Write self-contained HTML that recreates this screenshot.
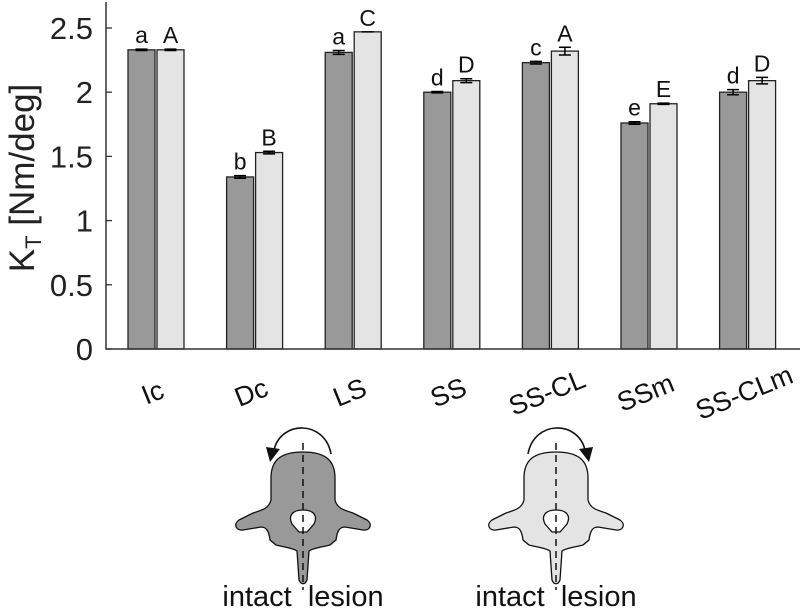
<!DOCTYPE html>
<html><head><meta charset="utf-8"><style>
body{margin:0;background:#fff;}
svg{display:block;font-family:"Liberation Sans",Arial,sans-serif;}
</style></head><body>
<svg id="chart" width="802" height="610" viewBox="0 0 802 610">
<g id="bars"></g>
<g id="axes"></g>
<g id="icons"></g>
</svg>
<script>
const categories=["Ic","Dc","LS","SS","SS-CL","SSm","SS-CLm"];
const intactValues=[2.33,1.34,2.31,2.0,2.23,1.76,2.0];
const lesionValues=[2.33,1.53,2.47,2.09,2.32,1.91,2.09];
const intactErr=[0.005,0.01,0.015,0.005,0.01,0.01,0.02];
const lesionErr=[0.005,0.01,0.0,0.015,0.03,0.005,0.025];
const intactLetters=["a","b","a","d","c","e","d"];
const lesionLetters=["A","B","C","D","A","E","D"];
const yTicks=[0,0.5,1,1.5,2,2.5];
const yTickLabels=["0","0.5","1","1.5","2","2.5"];

const NS="http://www.w3.org/2000/svg";
const X0=106,X1=800,Y0=349,PX=128.4,GSTEP=98.6,G0=156,BW=27;
const ys=v=>Y0-v*PX;
const xc=i=>G0+i*GSTEP;
function mk(tag,attrs,parent,text){const e=document.createElementNS(NS,tag);for(const k in attrs)e.setAttribute(k,attrs[k]);if(text!==undefined)e.textContent=text;parent.appendChild(e);return e;}
const gb=document.getElementById('bars'),ga=document.getElementById('axes'),gi=document.getElementById('icons');

categories.forEach((c,i)=>{
  [[intactValues,intactErr,intactLetters,'#999999',-BW-1,'intact'],[lesionValues,lesionErr,lesionLetters,'#e4e4e4',1,'lesion']].forEach(([vals,errs,lets,fill,off,nm])=>{
    const x=xc(i)+off,v=vals[i];
    const r=mk('rect',{x:x,y:ys(v),width:BW,height:Y0-ys(v),fill:fill,stroke:'#222','stroke-width':1.3},gb);
    
    
    const cx=x+BW/2,e=errs[i];
    const eb=mk('path',{d:`M${cx},${ys(v+e)}V${ys(v-e)}M${cx-6},${ys(v+e)}H${cx+6}M${cx-6},${ys(v-e)}H${cx+6}`,stroke:'#000','stroke-width':1.5,fill:'none'},gb);
    
    
    const t=mk('text',{x:cx,y:ys(v+e)-6,'text-anchor':'middle','font-size':23,fill:'#111'},gb,lets[i]);
    
    
  });
  const xl=mk('text',{x:0,y:0,'text-anchor':'middle','font-size':27,fill:'#111',transform:`translate(${xc(i)},${Y0+52}) rotate(-22)`},ga,c);
  
  
});
mk('path',{d:`M${X0},2V${Y0}H${X1}`,stroke:'#333','stroke-width':1.5,fill:'none'},ga);
yTicks.forEach((v,i)=>{
  mk('line',{x1:X0,x2:X0+6,y1:ys(v),y2:ys(v),stroke:'#333','stroke-width':1.3},ga);
  const t=mk('text',{x:X0-13,y:ys(v)+11,'text-anchor':'end','font-size':31,fill:'#222'},ga,yTickLabels[i]);
  
  
});
const yl=mk('text',{x:0,y:0,'text-anchor':'middle','font-size':35,fill:'#222',transform:'translate(34,178) rotate(-90)'},ga);


yl.innerHTML='K<tspan font-size="22" dy="7">T</tspan><tspan dy="-7"> [Nm/deg]</tspan>';

const vb="M0,452 C22,452 32,460 32,478 L32,500 C34,508 40,510 50,513 L64,520 C70,524 67,531 60,530 L42,527 C36,527 34,532 33,540 L27,545 C20,547 10,548 6,551 L4,580 C2,585 -2,585 -4,580 L-6,551 C-10,548 -20,547 -27,545 L-33,540 C-34,532 -36,527 -42,527 L-60,530 C-67,531 -70,524 -64,520 L-50,513 C-40,510 -34,508 -32,500 L-32,478 C-32,460 -22,452 0,452 Z";
[[303,'#999999',-1,'intact'],[556,'#e4e4e4',1,'lesion']].forEach(([cx,fill,dir,nm])=>{
  const g=mk('g',{transform:`translate(${cx},0)`},gi);
  
  
  mk('path',{d:vb,fill:fill,stroke:'#111','stroke-width':1.3},g);
  mk('path',{d:'M0,510 C11,510 15,516 11,524 L4,532 L-4,532 L-11,524 C-15,516 -11,510 0,510Z',fill:'#fff',stroke:'#111','stroke-width':1.3},g);
  mk('line',{x1:0,x2:0,y1:443,y2:590,stroke:'#111','stroke-width':1.5,'stroke-dasharray':'7,5'},g);
  const d=dir;
  mk('path',{d:`M${-28*d},454 C${-22*d},420 ${22*d},420 ${29*d},450`,fill:'none',stroke:'#111','stroke-width':1.6},g);
  mk('path',{d:`M${23*d},449 L${37*d},447 L${33*d},462 Z`,fill:'#111'},g);
  const t=mk('text',{x:0,y:606,'text-anchor':'middle','font-size':29,fill:'#111'},g,'intact  lesion');
  t.style.whiteSpace='pre';
});
</script>
</body></html>
